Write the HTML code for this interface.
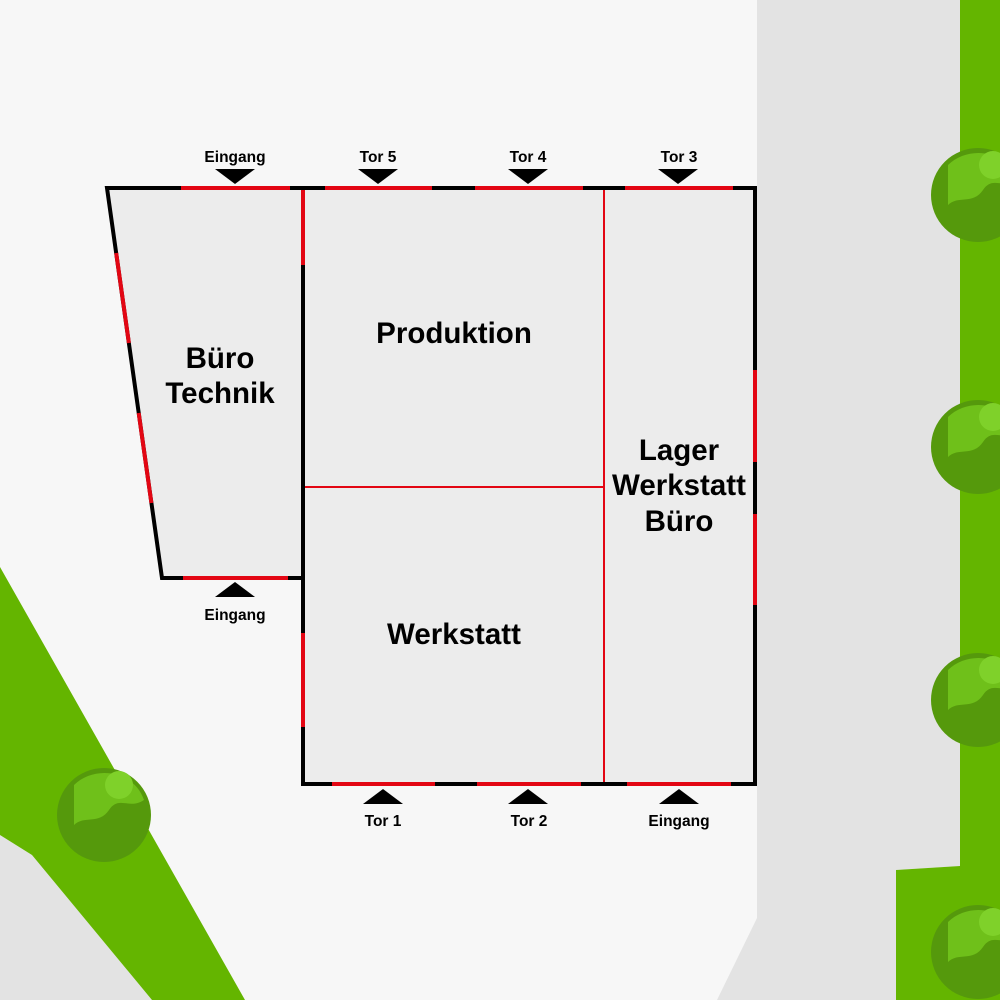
<!DOCTYPE html>
<html><head><meta charset="utf-8"><style>html,body{margin:0;padding:0;background:#f7f7f7}svg{display:block}</style></head><body>
<svg width="1000" height="1000" viewBox="0 0 1000 1000" xmlns="http://www.w3.org/2000/svg" font-family="Liberation Sans, sans-serif" font-weight="bold">
<rect width="1000" height="1000" fill="#f7f7f7"/>
<polygon points="757,0 960,0 960,866 896,870 896,1000 717,1000 757,918" fill="#e3e3e3"/>
<rect x="960" y="0" width="40" height="1000" fill="#64b500"/>
<polygon points="896,870 960,866 960,1000 896,1000" fill="#64b500"/>
<polygon points="0,835 32,855 152,1000 0,1000" fill="#e3e3e3"/>
<polygon points="0,567 245,1000 152,1000 32,855 0,835" fill="#64b500"/>
<g id="trees">
<g transform="translate(104,815)"><circle r="47" fill="#55990c"/><path d="M-30,-30 C-10,-50 30,-45 40,-15 C25,-5 15,-20 5,-5 C-5,10 -20,0 -30,10 Z" fill="#6fc01a"/><circle cx="15" cy="-30" r="14" fill="#7fd12a"/></g>
<g transform="translate(978,195)"><circle r="47" fill="#55990c"/><path d="M-30,-30 C-10,-50 30,-45 40,-15 C25,-5 15,-20 5,-5 C-5,10 -20,0 -30,10 Z" fill="#6fc01a"/><circle cx="15" cy="-30" r="14" fill="#7fd12a"/></g>
<g transform="translate(978,447)"><circle r="47" fill="#55990c"/><path d="M-30,-30 C-10,-50 30,-45 40,-15 C25,-5 15,-20 5,-5 C-5,10 -20,0 -30,10 Z" fill="#6fc01a"/><circle cx="15" cy="-30" r="14" fill="#7fd12a"/></g>
<g transform="translate(978,700)"><circle r="47" fill="#55990c"/><path d="M-30,-30 C-10,-50 30,-45 40,-15 C25,-5 15,-20 5,-5 C-5,10 -20,0 -30,10 Z" fill="#6fc01a"/><circle cx="15" cy="-30" r="14" fill="#7fd12a"/></g>
<g transform="translate(978,952)"><circle r="47" fill="#55990c"/><path d="M-30,-30 C-10,-50 30,-45 40,-15 C25,-5 15,-20 5,-5 C-5,10 -20,0 -30,10 Z" fill="#6fc01a"/><circle cx="15" cy="-30" r="14" fill="#7fd12a"/></g>
</g>
<polygon points="107,188 303,188 303,578 162,578" fill="#ececec"/>
<rect x="303" y="188" width="452" height="596" fill="#ececec"/>
<g stroke="#e30613" stroke-width="2"><line x1="604" y1="188" x2="604" y2="784"/><line x1="303" y1="487" x2="604" y2="487"/></g>
<g fill="none" stroke="#000" stroke-width="4" stroke-linejoin="miter">
<polygon points="107,188 755,188 755,784 303,784 303,578 162,578"/>
<line x1="303" y1="188" x2="303" y2="578"/>
</g>
<g stroke="#e30613" stroke-width="4">
<line x1="181" y1="188" x2="290" y2="188"/><line x1="325" y1="188" x2="432" y2="188"/><line x1="475" y1="188" x2="583" y2="188"/><line x1="625" y1="188" x2="733" y2="188"/>
<line x1="116.2" y1="253" x2="128.9" y2="343"/><line x1="138.7" y1="413" x2="151.4" y2="503"/>
<line x1="303" y1="190" x2="303" y2="265"/><line x1="303" y1="633" x2="303" y2="727"/>
<line x1="183" y1="578" x2="288" y2="578"/>
<line x1="755" y1="370" x2="755" y2="462"/><line x1="755" y1="514" x2="755" y2="605"/>
<line x1="332" y1="784" x2="435" y2="784"/><line x1="477" y1="784" x2="581" y2="784"/><line x1="627" y1="784" x2="731" y2="784"/>
</g>
<g fill="#000">
<polygon points="215,169 255,169 235,184"/><polygon points="358,169 398,169 378,184"/><polygon points="508,169 548,169 528,184"/><polygon points="658,169 698,169 678,184"/>
<polygon points="215,597 255,597 235,582"/><polygon points="363,804 403,804 383,789"/><polygon points="508,804 548,804 528,789"/><polygon points="659,804 699,804 679,789"/>
</g>
<g font-size="15.5" text-anchor="middle" fill="#000">
<text x="235" y="162">Eingang</text><text x="378" y="162">Tor 5</text><text x="528" y="162">Tor 4</text><text x="679" y="162">Tor 3</text>
<text x="235" y="620">Eingang</text><text x="383" y="826">Tor 1</text><text x="529" y="826">Tor 2</text><text x="679" y="826">Eingang</text>
</g>
<g font-size="29.5" text-anchor="middle" fill="#000">
<text x="454" y="343">Produktion</text>
<text x="220" y="368">Büro</text><text x="220" y="403">Technik</text>
<text x="454" y="644">Werkstatt</text>
<text x="679" y="460">Lager</text><text x="679" y="495">Werkstatt</text><text x="679" y="531">Büro</text>
</g>
</svg>
</body></html>
